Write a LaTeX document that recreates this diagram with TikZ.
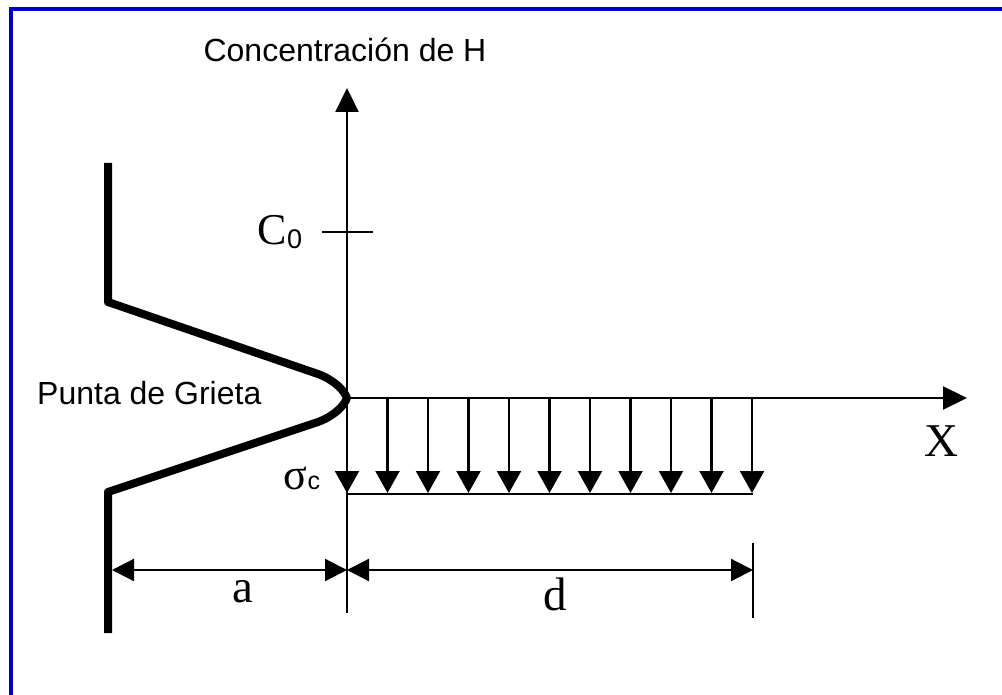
\documentclass[tikz,border=0pt]{standalone}
\usepackage{fontspec}
\setmainfont{Liberation Serif}
\setsansfont{Liberation Sans}
\usetikzlibrary{arrows.meta, calc}
\definecolor{frameblue}{RGB}{0,0,204}

\begin{document}
\begin{tikzpicture}[
    x=1pt, y=-1pt,
    axis/.style={line width=2.2pt, -{Triangle[length=24pt, width=23pt]}},
    load/.style={line width=2.2pt, -{Triangle[length=22pt, width=24pt]}},
    dimline/.style={line width=2.2pt, {Triangle[length=22pt, width=22pt]}-{Triangle[length=22pt, width=22pt]}},
    crack/.style={line width=8pt, line join=round},
    guide/.style={line width=2.2pt},
    sanslabel/.style={font=\sffamily\fontsize{32}{38}\selectfont, inner sep=0pt},
    seriflabel/.style={font=\fontsize{47}{54}\selectfont, inner sep=0pt}
]
\useasboundingbox (0,0) rectangle (1002,695);

% ============ Frame ============
\draw[frameblue, line width=4pt] (11,695) -- (11,9) -- (1002,9);

% ============ Axes ============
\coordinate (origin) at (347,398);
\coordinate (ytop) at (347,88);
\coordinate (ybot) at (347,613);
\coordinate (xend) at (967,398);
\draw[axis] (ybot) -- (ytop);
\draw[axis] (origin) -- (xend);
\node[sanslabel] (ylab) at (345,50) {Concentración de H};
\node[seriflabel] (xlab) at (941,441) {X};

% C0 tick
\coordinate (tickL) at (322,232);
\coordinate (tickR) at (373,232);
\draw[guide] (tickL) -- (tickR);
\node[font=\fontsize{44}{50}\selectfont, inner sep=0pt] (czero) at (280,232)
    {C\raisebox{-0.2ex}{\sffamily\fontsize{27}{30}\selectfont 0}};

% ============ Crack profile ============
\draw[crack] (108,163) -- (108,302) -- (318,374)
    .. controls (334,380) and (344,390) .. (origin)
    .. controls (344,406) and (334,416) .. (318,422)
    -- (108,492) -- (108,633);
\node[sanslabel, anchor=west] (tip) at (37,393) {Punta de Grieta};

% ============ Stress distribution ============
\foreach \i in {0,...,10}
    \draw[load] ({347+40.5*\i},398) -- ({347+40.5*\i},493);
\coordinate (loadL) at (347,494);
\coordinate (loadR) at (753,494);
\draw[guide] (loadL) -- (loadR);
\node[font=\fontsize{44}{50}\selectfont, inner sep=0pt] (sigma) at (302,478)
    {σ{\sffamily\fontsize{25}{30}\selectfont c}};

% ============ Dimensions ============
\coordinate (aL) at (112,570);
\coordinate (aR) at (347,570);
\coordinate (dR) at (753,570);
\draw[dimline] (aL) -- (aR);
\draw[dimline] (aR) -- (dR);
\draw[guide] (753,543) -- (753,618);
\node[seriflabel] (alab) at (243,592) {a};
\node[seriflabel] (dlab) at (555,594) {d};

\end{tikzpicture}
\end{document}
